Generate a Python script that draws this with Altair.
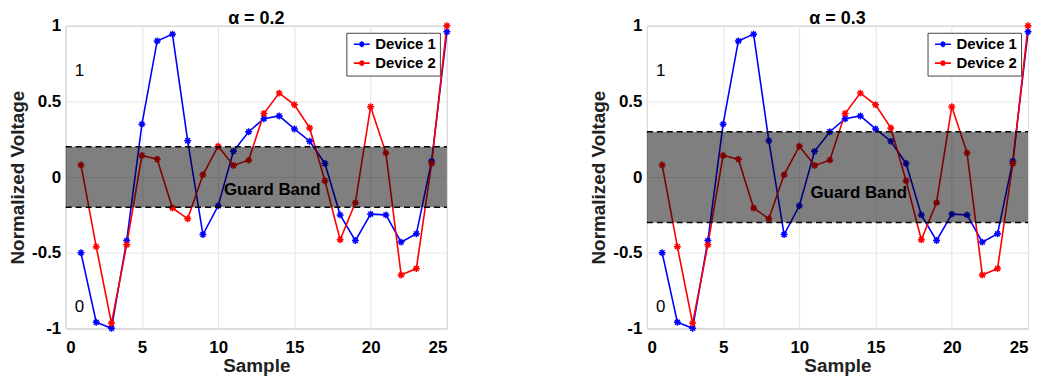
import altair as alt
import pandas as pd

samples = list(range(1, 26))
device1 = [-0.50, -0.96, -1.00, -0.42, 0.35, 0.90, 0.945, 0.24, -0.38, -0.19,
           0.17, 0.30, 0.386, 0.404, 0.318, 0.237, 0.09, -0.25, -0.42, -0.245,
           -0.25, -0.43, -0.375, 0.105, 0.96]
device2 = [0.08, -0.46, -0.967, -0.447, 0.143, 0.118, -0.204, -0.276, 0.015, 0.204,
           0.077, 0.112, 0.42, 0.555, 0.478, 0.325, -0.024, -0.414, -0.169, 0.465,
           0.16, -0.647, -0.605, 0.09, 1.0]
series_names = ["Device 1", "Device 2"]
series_colors = ["#0000FF", "#FF0000"]
alphas = [0.2, 0.3]
band_label = "Guard Band"
band_label_x = [13.55, 13.9]
band_label_y = [-0.085, -0.105]
level_labels = ["1", "0"]
level_x = [0.9, 0.9]
level_y = [0.70, -0.86]

FONT = "Liberation Sans"
W, H = 383, 304

rows = []
for s, a, b in zip(samples, device1, device2):
    rows.append({"Sample": s, "Voltage": a, "Device": series_names[0]})
    rows.append({"Sample": s, "Voltage": b, "Device": series_names[1]})
df = pd.DataFrame(rows)

ASTER = "M-1,0L1,0M0,-1L0,1M-0.7,-0.7L0.7,0.7M-0.7,0.7L0.7,-0.7"
LEG_SYM = "M-1,0L3,0M1,-0.75L1,0.75M0.5,-0.5L1.5,0.5M0.5,0.5L1.5,-0.5"

xscale = alt.Scale(domain=[0, 25], nice=False, zero=False)
yscale = alt.Scale(domain=[-1, 1], nice=False, zero=False)


def panel(i):
    a = alphas[i]
    color = alt.Color(
        "Device:N",
        scale=alt.Scale(domain=series_names, range=series_colors),
        legend=alt.Legend(
            title=None, orient="top-right", offset=7,
            strokeColor="#444", fillColor="white", padding=4,
            symbolType=LEG_SYM, symbolSize=64, symbolStrokeWidth=1.6,
            symbolFillColor="transparent",
            labelFont=FONT, labelFontSize=15, labelFontWeight="bold",
            labelColor="black", labelOffset=10, rowPadding=3,
        ),
    )
    x = alt.X("Sample:Q", scale=xscale,
              axis=alt.Axis(values=[0, 5, 10, 15, 20, 25], title="Sample"))
    y = alt.Y("Voltage:Q", scale=yscale,
              axis=alt.Axis(values=[-1, -0.5, 0, 0.5, 1], title="Normalized Voltage",
                            labelExpr="datum.value + ''"))
    base = alt.Chart(df)
    lines = base.mark_line(strokeWidth=1.6).encode(x=x, y=y, color=color, detail="Device:N")
    pts = base.mark_point(shape=ASTER, size=49, filled=False, strokeWidth=1.5, opacity=1).encode(
        x=x, y=y, color=color)

    bdf = pd.DataFrame({"lo": [-a], "hi": [a]})
    band = alt.Chart(bdf).mark_rect(color="black", opacity=0.5).encode(
        y=alt.Y("lo:Q", scale=yscale), y2="hi:Q",
        x=alt.value(0), x2=alt.value(W))
    rdf = pd.DataFrame({"v": [-a, a]})
    rules = alt.Chart(rdf).mark_rule(color="black", strokeWidth=1.6, strokeDash=[6, 4]).encode(
        y=alt.Y("v:Q", scale=yscale), x=alt.value(0), x2=alt.value(W))

    tdf = pd.DataFrame({"x": [band_label_x[i]], "y": [band_label_y[i]], "t": [band_label]})
    gtext = alt.Chart(tdf).mark_text(font=FONT, fontSize=17, fontWeight="bold", color="black").encode(
        x=alt.X("x:Q", scale=xscale), y=alt.Y("y:Q", scale=yscale), text="t:N")
    ldf = pd.DataFrame({"x": level_x, "y": level_y, "t": level_labels})
    ltext = alt.Chart(ldf).mark_text(font=FONT, fontSize=17, color="black").encode(
        x=alt.X("x:Q", scale=xscale), y=alt.Y("y:Q", scale=yscale), text="t:N")

    return alt.layer(lines, pts, band, rules, gtext, ltext).properties(
        width=W, height=H,
        title=alt.Title(f"α = {a}", font=FONT, fontSize=18, fontWeight="bold",
                        color="black", offset=-11, anchor="middle", frame="group"),
    )


chart = alt.hconcat(panel(0), panel(1), spacing=136).resolve_scale(color="independent").properties(
    padding={"left": 0, "top": 0, "right": 0, "bottom": 0}
).configure_view(stroke="#999", strokeWidth=1).configure_axis(
    grid=True, gridColor="#e6e6e6", gridWidth=1, domain=False, ticks=False,
    labelFont=FONT, labelFontSize=17, labelFontWeight="bold", labelColor="black",
    titleFont=FONT, titleFontSize=19, titleFontWeight="bold", titleColor="#222",
).configure_axisY(titlePadding=4, labelPadding=5).configure_axisX(titlePadding=1, labelPadding=11)

chart.save("out.html", embed_options={"renderer": "svg", "actions": False})
